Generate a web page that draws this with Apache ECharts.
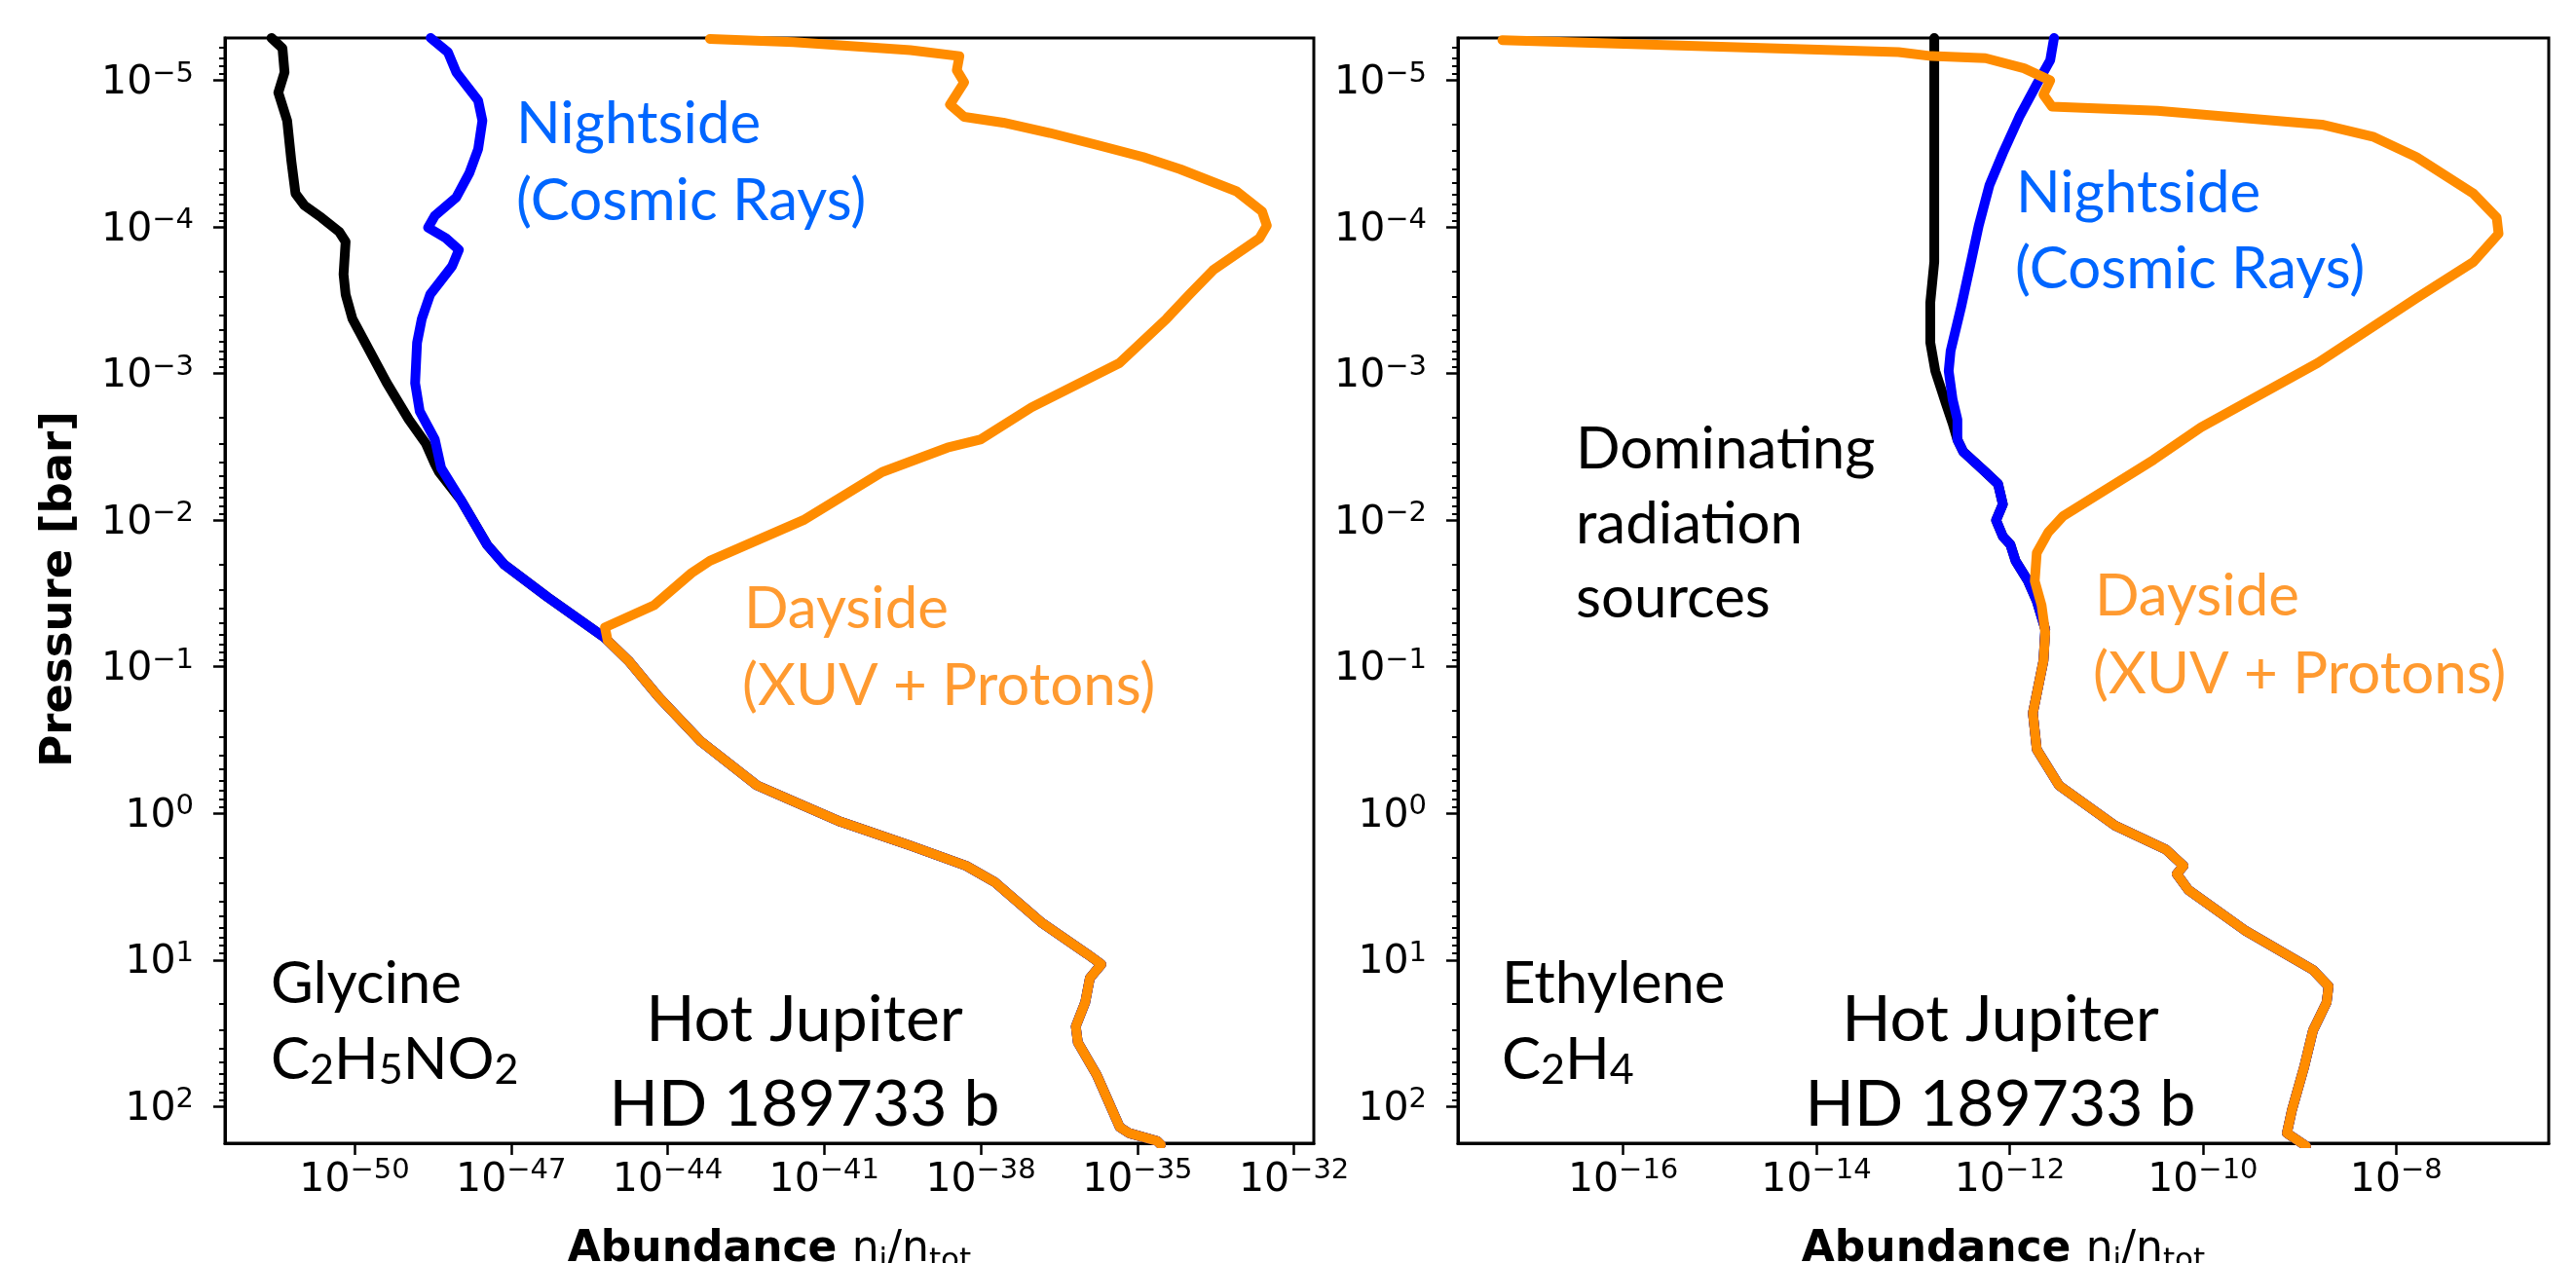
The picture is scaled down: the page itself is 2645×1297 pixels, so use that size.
<!DOCTYPE html>
<html><head><meta charset="utf-8">
<script src="https://cdn.jsdelivr.net/npm/echarts@6/dist/echarts.min.js"></script>
<style>html,body{margin:0;padding:0;background:#fff}#c{width:2645px;height:1297px}</style>
</head><body><div id="c"></div>
<script>
// ---------- Glycine (left panel) : abundance n_i/n_tot and pressure [bar] ----------
const glyBaseA = [2.57e-52,4.17e-52,4.57e-52,3.47e-52,5.13e-52,6.17e-52,7.41e-52,1.10e-51,2.34e-51,5.13e-51,6.76e-51,6.17e-51,6.76e-51,9.12e-51,1.95e-50,4.17e-50,1.10e-49,2.34e-49,3.47e-49,4.17e-49,1.10e-48,3.47e-48,7.41e-48,5.01e-47,6.17e-46,
  7.08e-46,1.78e-45,6.76e-45,4.27e-44,5.13e-43,2.04e-41,4.47e-40,5.25e-39,1.82e-38,1.41e-37,1.10e-36,2.04e-36,1.23e-36,1.00e-36,6.61e-37,7.24e-37,1.66e-36,4.57e-36,6.92e-36,2.40e-35,2.82e-35];
const glyBaseP = [5.13e-6,6.03e-6,8.79e-6,1.21e-5,1.88e-5,3.55e-5,5.90e-5,7.13e-5,8.63e-5,1.08e-4,1.26e-4,2.10e-4,2.88e-4,4.22e-4,7.00e-4,1.16e-3,2.06e-3,3.01e-3,4.13e-3,4.69e-3,7.31e-3,1.47e-2,2.01e-2,3.35e-2,6.31e-2,
  0.0662,0.0910,0.161,0.322,0.644,1.14,1.66,2.28,2.93,5.51,9.12,10.7,13.3,19.5,28.4,36.6,60.7,138,152,172,182];
const glyNightA = [2.88e-49,6.17e-49,8.91e-49,2.34e-48,2.82e-48,2.34e-48,1.58e-48,8.91e-49,3.47e-49,2.57e-49,5.62e-49,1.00e-48,7.41e-49,2.82e-49,1.95e-49,1.58e-49,1.45e-49,1.78e-49,3.47e-49,4.57e-49,1.10e-48,3.47e-48,7.41e-48,5.01e-47,6.17e-46,
  7.08e-46,1.78e-45,6.76e-45,4.27e-44,5.13e-43,2.04e-41,4.47e-40,5.25e-39,1.82e-38,1.41e-37,1.10e-36,2.04e-36,1.23e-36,1.00e-36,6.61e-37,7.24e-37,1.66e-36,4.57e-36,6.92e-36,2.40e-35,2.82e-35];
const glyNightP = [5.13e-6,6.41e-6,8.79e-6,1.37e-5,1.88e-5,2.94e-5,4.30e-5,6.28e-5,8.36e-5,1.01e-4,1.19e-4,1.43e-4,1.85e-4,2.88e-4,4.22e-4,6.15e-4,1.16e-3,1.81e-3,2.82e-3,4.40e-3,7.31e-3,1.47e-2,2.01e-2,3.35e-2,6.31e-2,
  0.0662,0.0910,0.161,0.322,0.644,1.14,1.66,2.28,2.93,5.51,9.12,10.7,13.3,19.5,28.4,36.6,60.7,138,152,172,182];
const glyDayA = [6.46e-44,2.57e-42,4.47e-40,3.89e-39,3.47e-39,4.79e-39,2.57e-39,4.79e-39,2.69e-38,2.09e-37,1.66e-36,1.29e-35,6.61e-35,7.94e-34,2.45e-33,3.02e-33,2.19e-33,2.82e-34,1.00e-34,3.63e-35,4.57e-36,9.33e-38,9.77e-39,2.29e-39,1.29e-40,3.98e-42,6.46e-44,2.88e-44,5.50e-45,6.31e-46,
  7.08e-46,1.78e-45,6.76e-45,4.27e-44,5.13e-43,2.04e-41,4.47e-40,5.25e-39,1.82e-38,1.41e-37,1.10e-36,2.04e-36,1.23e-36,1.00e-36,6.61e-37,7.24e-37,1.66e-36,4.57e-36,6.92e-36,2.40e-35,2.82e-35];
const glyDayP = [5.20e-6,5.47e-6,6.21e-6,6.82e-6,8.51e-6,1.03e-5,1.46e-5,1.77e-5,1.94e-5,2.28e-5,2.75e-5,3.33e-5,4.03e-5,5.71e-5,7.83e-5,9.77e-5,1.19e-4,1.97e-4,2.88e-4,4.22e-4,8.45e-4,1.70e-3,2.82e-3,3.20e-3,4.69e-3,1.00e-2,1.89e-2,2.29e-2,3.80e-2,5.38e-2,
  0.0662,0.0910,0.161,0.322,0.644,1.14,1.66,2.28,2.93,5.51,9.12,10.7,13.3,19.5,28.4,36.6,60.7,138,152,172,182];

// ---------- Ethylene (right panel) ----------
const ethBaseA = [1.66e-13,1.66e-13,1.51e-13,1.51e-13,1.70e-13,2.19e-13,2.57e-13,2.88e-13,3.31e-13,5.62e-13,7.59e-13,8.51e-13,7.24e-13,8.51e-13,1.02e-12,1.15e-12,1.55e-12,1.91e-12,2.34e-12,
  2.24e-12,1.74e-12,1.91e-12,3.24e-12,1.23e-11,4.17e-11,6.31e-11,5.37e-11,7.08e-11,2.69e-10,1.38e-9,2.00e-9,1.91e-9,1.38e-9,1.12e-9,8.32e-10,7.41e-10,1.02e-9,1.17e-9];
const ethBaseP = [5.13e-6,1.73e-4,3.27e-4,6.15e-4,9.59e-4,1.60e-3,2.19e-3,2.82e-3,3.41e-3,4.69e-3,5.66e-3,7.78e-3,1.00e-2,1.29e-2,1.47e-2,1.89e-2,2.60e-2,3.56e-2,5.56e-2,
  0.0910,0.207,0.366,0.644,1.21,1.77,2.28,2.59,3.33,6.25,11.7,15.1,19.5,30.3,53.5,107,152,175,186];
const ethNightA = [2.88e-12,2.63e-12,1.91e-12,1.26e-12,8.51e-13,6.17e-13,4.79e-13,3.89e-13,3.16e-13,2.45e-13,2.34e-13,2.57e-13,2.88e-13,2.88e-13,3.31e-13,5.62e-13,7.59e-13,8.51e-13,7.24e-13,8.51e-13,1.02e-12,1.15e-12,1.55e-12,1.91e-12,2.34e-12,
  2.24e-12,1.74e-12,1.91e-12,3.24e-12,1.23e-11,4.17e-11,6.31e-11,5.37e-11,7.08e-11,2.69e-10,1.38e-9,2.00e-9,1.91e-9,1.38e-9,1.12e-9,8.32e-10,7.41e-10,1.02e-9,1.17e-9];
const ethNightP = [5.13e-6,7.28e-6,1.06e-5,1.77e-5,3.13e-5,5.20e-5,9.79e-5,1.85e-4,3.48e-4,7.00e-4,9.59e-4,1.50e-3,2.06e-3,2.82e-3,3.41e-3,4.69e-3,5.66e-3,7.78e-3,1.00e-2,1.29e-2,1.47e-2,1.89e-2,2.60e-2,3.56e-2,5.56e-2,
  0.0910,0.207,0.366,0.644,1.21,1.77,2.28,2.59,3.33,6.25,11.7,15.1,19.5,30.3,53.5,107,152,175,186];
const ethDayA = [5.62e-18,7.08e-14,1.55e-13,5.62e-13,1.41e-12,2.63e-12,2.24e-12,2.75e-12,3.39e-11,1.70e-9,5.89e-9,1.62e-8,6.31e-8,1.10e-7,1.15e-7,6.31e-8,1.62e-8,1.55e-9,9.55e-11,3.09e-11,3.55e-12,2.51e-12,1.91e-12,1.82e-12,2.14e-12,2.34e-12,
  2.24e-12,1.74e-12,1.91e-12,3.24e-12,1.23e-11,4.17e-11,6.31e-11,5.37e-11,7.08e-11,2.69e-10,1.38e-9,2.00e-9,1.91e-9,1.38e-9,1.12e-9,8.32e-10,7.41e-10,1.02e-9,1.17e-9];
const ethDayP = [5.30e-6,6.41e-6,6.82e-6,7.05e-6,8.26e-6,1.00e-5,1.25e-5,1.51e-5,1.61e-5,2.00e-5,2.43e-5,3.33e-5,5.90e-5,8.63e-5,1.11e-4,1.73e-4,3.06e-4,8.45e-4,2.33e-3,3.87e-3,9.42e-3,1.21e-2,1.67e-2,2.60e-2,3.80e-2,5.85e-2,
  0.0910,0.207,0.366,0.644,1.21,1.77,2.28,2.59,3.33,6.25,11.7,15.1,19.5,30.3,53.5,107,152,175,186];

// ---------- axis ranges and tick labels (powers of ten) ----------
const pRange = [5.13e-6, 178];
const glyRange = [3.3e-53, 2.4e-32];
const ethRange = [1.95e-18, 3.8e-7];
const glyTickExp = [-50,-47,-44,-41,-38,-35,-32];
const ethTickExp = [-16,-14,-12,-10,-8];
const pTickExp = [-5,-4,-3,-2,-1,0,1,2];

// ---------- build ----------
const lg = Math.log10;
const pairs = (A, P) => A.map((a, i) => [lg(a), lg(P[i])]);
const pMin = lg(pRange[0]), pMax = lg(pRange[1]);
const minorP = [];
for (let d = -6; d <= 2; d++) for (let k = 2; k <= 9; k++) { const v = d + lg(k); if (v >= pMin && v <= pMax) minorP.push(v); }

const DJ = 'DejaVu Sans';
const supRich = {
  a: { fontFamily: DJ, fontSize: 41, lineHeight: 48, color: '#000' },
  s: { fontFamily: DJ, fontSize: 29, lineHeight: 22, verticalAlign: 'top', color: '#000' }
};
const supFmt = v => { const e = Math.round(v); return '{a|10}{s|' + (e < 0 ? '\u2212' + (-e) : e) + '}'; };

const G = [
  { left: 231, top: 39, width: 1118, height: 1135 },
  { left: 1497, top: 39, width: 1120, height: 1135 }
];
const gridBase = { outerBoundsMode: 'none', containLabel: false };
const grids = [
  Object.assign({ show: true, borderColor: '#000', borderWidth: 3, backgroundColor: 'transparent' }, gridBase, G[0]),
  Object.assign({ show: true, borderColor: '#000', borderWidth: 3, backgroundColor: 'transparent' }, gridBase, G[1]),
  Object.assign({}, gridBase, G[0]), Object.assign({}, gridBase, G[1])
];
const xName = {
  name: '{b|Abundance }{r|n}{u|i}{r|/n}{u|tot}', nameLocation: 'middle', nameGap: 84,
  nameTextStyle: { rich: {
    b: { fontFamily: DJ, fontWeight: 'bold', fontSize: 44, lineHeight: 52, color: '#000' },
    r: { fontFamily: DJ, fontSize: 44, lineHeight: 52, color: '#000' },
    u: { fontFamily: DJ, fontSize: 31, lineHeight: 30, verticalAlign: 'bottom', color: '#000' } } }
};
function mainX(idx, range, ticks) {
  return Object.assign({
    type: 'value', gridIndex: idx, min: lg(range[0]), max: lg(range[1]),
    axisLine: { show: true, onZero: false, lineStyle: { color: '#000', width: 3 } },
    axisTick: { show: true, customValues: ticks, length: 12, lineStyle: { color: '#000', width: 2.5 } },
    axisLabel: { show: true, customValues: ticks, formatter: supFmt, margin: 14, rich: supRich },
    splitLine: { show: false }
  }, xName);
}
function mainY(idx) {
  return {
    type: 'value', gridIndex: idx, min: pMin, max: pMax, inverse: true,
    axisLine: { show: true, onZero: false, lineStyle: { color: '#000', width: 3 } },
    axisTick: { show: true, customValues: pTickExp, length: 12, lineStyle: { color: '#000', width: 2.5 } },
    axisLabel: { show: true, customValues: pTickExp, formatter: supFmt, margin: 32, padding: [6, 0, 0, 0], rich: supRich },
    splitLine: { show: false }
  };
}
function minorY(idx) {
  return {
    type: 'value', gridIndex: idx, min: pMin, max: pMax, inverse: true,
    axisLine: { show: false }, axisLabel: { show: false }, splitLine: { show: false },
    axisTick: { show: true, customValues: minorP, length: 6, lineStyle: { color: '#000', width: 2 } }
  };
}
function line(name, gi, A, P, color, z) {
  return { name, type: 'line', xAxisIndex: gi, yAxisIndex: gi, data: pairs(A, P), symbol: 'none', showSymbol: false,
    lineStyle: { color, width: 10, join: 'round', cap: 'round' }, z, clip: true, animation: false, emphasis: { disabled: true } };
}

const LATO = 'Lato';
const FS = 60, FB = 66;
const BLUE_T = '#0066FF', ORANGE_T = '#FF9A30';
function T(text, x, base, fs, color, align) {
  return { type: 'text', x, y: base - 0.387 * fs, z: 50,
    style: { text, fontFamily: LATO, fontSize: fs, fill: color, align: align || 'left', verticalAlign: 'middle' } };
}
function TR(text, x, base, fs, color) {
  return { type: 'text', x, y: base - 0.387 * fs, z: 50,
    style: { text, align: 'left', verticalAlign: 'middle', rich: {
      n: { fontFamily: LATO, fontSize: fs, lineHeight: fs + 4, color },
      u: { fontFamily: LATO, fontSize: Math.round(fs * 0.72), lineHeight: 14, verticalAlign: 'bottom', color } } } };
}

const option = {
  backgroundColor: '#fff',
  animation: false,
  grid: grids,
  xAxis: [mainX(0, glyRange, glyTickExp), mainX(1, ethRange, ethTickExp),
    { type: 'value', gridIndex: 2, show: false, min: 0, max: 1 }, { type: 'value', gridIndex: 3, show: false, min: 0, max: 1 }],
  yAxis: [mainY(0), mainY(1), minorY(2), minorY(3)],
  series: [
    line('Glycine baseline', 0, glyBaseA, glyBaseP, '#000000', 2),
    line('Glycine nightside', 0, glyNightA, glyNightP, '#0000FF', 3),
    line('Glycine dayside', 0, glyDayA, glyDayP, '#FF8C00', 4),
    line('Ethylene baseline', 1, ethBaseA, ethBaseP, '#000000', 2),
    line('Ethylene nightside', 1, ethNightA, ethNightP, '#0000FF', 3),
    line('Ethylene dayside', 1, ethDayA, ethDayP, '#FF8C00', 4)
  ],
  graphic: [
    { type: 'text', x: 61, y: 605, rotation: Math.PI / 2, z: 50,
      style: { text: 'Pressure [bar]', fontFamily: DJ, fontWeight: 'bold', fontSize: 45, fill: '#000', align: 'center', verticalAlign: 'middle' } },
    T('Nightside', 530, 151, FS, BLUE_T), T('(Cosmic Rays)', 530, 230, FS, BLUE_T),
    T('Dayside', 764, 649, FS, ORANGE_T), T('(XUV + Protons)', 762, 728, FS, ORANGE_T),
    T('Glycine', 278, 1034, FS, '#000'),
    TR('{n|C}{u|2}{n|H}{u|5}{n|NO}{u|2}', 278, 1112, FS, '#000'),
    T('Hot Jupiter', 826, 1073, FB, '#000', 'center'), T('HD 189733 b', 826, 1160, FB, '#000', 'center'),
    T('Nightside', 2070, 222, FS, BLUE_T), T('(Cosmic Rays)', 2069, 300, FS, BLUE_T),
    T('Dominating', 1618, 485, FS, '#000'), T('radiation', 1618, 562, FS, '#000'), T('sources', 1618, 638, FS, '#000'),
    T('Dayside', 2151, 636, FS, ORANGE_T), T('(XUV + Protons)', 2149, 716, FS, ORANGE_T),
    T('Ethylene', 1542, 1034, FS, '#000'),
    TR('{n|C}{u|2}{n|H}{u|4}', 1542, 1112, FS, '#000'),
    T('Hot Jupiter', 2054, 1073, FB, '#000', 'center'), T('HD 189733 b', 2054, 1160, FB, '#000', 'center')
  ]
};
const chart = echarts.init(document.getElementById('c'), null, { renderer: 'canvas', width: 2645, height: 1297 });
chart.setOption(option);
</script></body></html>
